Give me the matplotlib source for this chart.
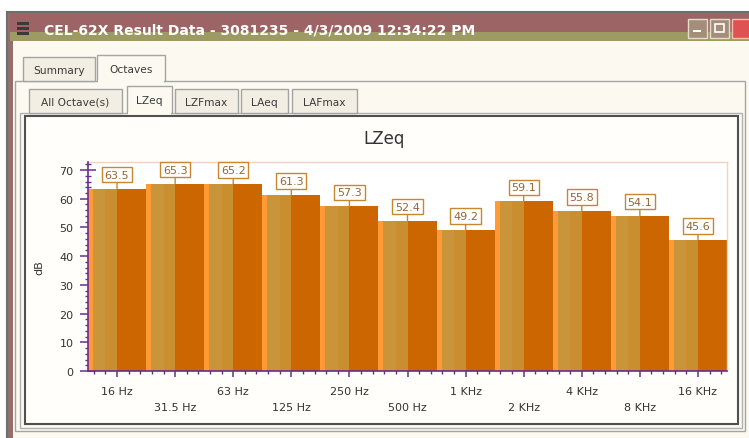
import numpy as np
import matplotlib.pyplot as plt
from matplotlib.patches import Rectangle
from matplotlib.ticker import MultipleLocator

bands = ['16 Hz', '31.5 Hz', '63 Hz', '125 Hz', '250 Hz', '500 Hz',
         '1 KHz', '2 KHz', '4 KHz', '8 KHz', '16 KHz']
lzeq = [63.5, 65.3, 65.2, 61.3, 57.3, 52.4, 49.2, 59.1, 55.8, 54.1, 45.6]
window_title = 'CEL-62X Result Data - 3081235 - 4/3/2009 12:34:22 PM'
main_tabs = ['Summary', 'Octaves']
sub_tabs = ['All Octave(s)', 'LZeq', 'LZFmax', 'LAeq', 'LAFmax']

W, H = 749, 439
BODY = '#fcf9f1'
fig = plt.figure(figsize=(W / 100, H / 100), dpi=100)
fig.patch.set_facecolor('white')

# window chrome, drawn in pixel coordinates
ui = fig.add_axes([0, 0, 1, 1], zorder=0)
ui.set_xlim(0, W)
ui.set_ylim(H, 0)
ui.axis('off')


def box(x0, y0, x1, y1, fc='none', ec='none', lw=1.0):
    ui.add_patch(Rectangle((x0, y0), x1 - x0, y1 - y0, fc=fc, ec=ec, lw=lw))


box(7, 13, 770, 460, fc='#93706c', ec='#6e6e6e', lw=1.5)
box(10, 14, 770, 33, fc='#9c6464')
box(10, 33, 770, 42, fc='#9d9a64')
box(13, 42, 770, 460, fc=BODY)
for yy in (24, 29, 34):
    box(17, yy - 1.5, 29, yy + 1.5, fc='#3a3a3a')
ui.text(44, 30, window_title, color='white', fontsize=10, fontweight='bold',
        va='center', ha='left')
box(688, 20, 707, 39, fc='#a38e7a', ec='#e6dccb')
box(710, 20, 729, 39, fc='#a38e7a', ec='#e6dccb')
box(732, 20, 760, 39, fc='#e05252', ec='#f0c0b0')
box(693, 31, 701, 33, fc='white')
box(715, 25, 724, 33, ec='white', lw=1.2)

# outer tab panel
box(15, 82, 745, 432, fc=BODY, ec='#a4a4a4')
tab1 = [(23, 95), (97, 165)]
for i, (name, (x0, x1)) in enumerate(zip(main_tabs, tab1)):
    sel = i == 1
    y0 = 56 if sel else 58
    box(x0, y0, x1, 82, fc=BODY if sel else '#f2eee3', ec='#a4a4a4')
    if sel:
        box(x0 + 0.8, 81, x1 - 0.8, 83.5, fc=BODY)
    ui.text((x0 + x1) / 2, (y0 + 82) / 2 + 1, name, fontsize=7.7, color='#3a3a3a',
            ha='center', va='center')

# inner tab panel
box(20, 114, 742, 429, fc=BODY, ec='#b0b0b0')
tab2 = [(29, 122), (127, 172), (175, 238), (241, 288), (292, 357)]
for i, (name, (x0, x1)) in enumerate(zip(sub_tabs, tab2)):
    sel = i == 1
    y0 = 87 if sel else 90
    box(x0, y0, x1, 114, fc=BODY if sel else '#f2eee3', ec='#a4a4a4')
    if sel:
        box(x0 + 0.8, 113, x1 - 0.8, 115.5, fc=BODY)
    ui.text((x0 + x1) / 2, (y0 + 114) / 2 + 1, name, fontsize=7.7, color='#3a3a3a',
            ha='center', va='center')

# chart panel
box(25, 117, 738, 425, fc='#fffefb', ec='#505050', lw=1.5)
ui.text(384, 139, 'LZeq', fontsize=12, color='#333333', ha='center', va='center')

# the chart itself
ax = fig.add_axes([88 / W, (H - 372) / H, (727 - 88) / W, (372 - 163) / H], zorder=2)
ax.set_facecolor('white')
x = np.arange(len(lzeq))
vals = np.array(lzeq)

ax.bar(x - 0.5, vals, width=1.0, align='edge', color='#ff9a35', lw=0, zorder=2)
ax.bar(x - 0.414, vals, width=0.414, align='edge', color='#c9943a', lw=0, zorder=2)
ax.bar(x - 0.2, vals, width=0.2, align='edge', color='#c98e30', lw=0, zorder=2)
ax.bar(x, vals, width=0.5, align='edge', color='#cc6600', lw=0, zorder=2)

for xi, v in zip(x, vals):
    ax.annotate('%.1f' % v, xy=(xi, v), xytext=(0, 6.5), textcoords='offset points',
                ha='center', va='bottom', fontsize=8, color='#9a6432',
                bbox=dict(boxstyle='square,pad=0.25', fc='white', ec='#c8862e', lw=1),
                arrowprops=dict(arrowstyle='-', color='#c8862e', lw=1,
                                shrinkA=0, shrinkB=0),
                zorder=4, annotation_clip=False)

ax.set_xlim(-0.5, len(lzeq) - 0.5)
ax.set_ylim(0, 72.8)
ax.set_yticks(np.arange(0, 71, 10))
ax.yaxis.set_minor_locator(MultipleLocator(2))
ax.set_xticks(x)
ax.xaxis.set_minor_locator(MultipleLocator(0.2))
ax.set_xticklabels([b if i % 2 == 0 else '\n' + b for i, b in enumerate(bands)])
for lab in ax.get_xticklabels():
    lab.set_linespacing(1.75)

purple = '#6a2c91'
ax.tick_params(which='major', direction='inout', length=9, width=1.1, color=purple,
               labelsize=8, labelcolor='#333333')
ax.tick_params(axis='y', which='major', length=12, pad=4.5)
ax.tick_params(axis='x', which='major', pad=6.5)
ax.tick_params(which='minor', direction='inout', length=4.5, width=1, color=purple)
for s in ('left', 'bottom'):
    ax.spines[s].set_color(purple)
    ax.spines[s].set_linewidth(1.2)
    ax.spines[s].set_zorder(3)
for s in ('top', 'right'):
    ax.spines[s].set_color('#f2d2c2')
    ax.spines[s].set_linewidth(1)

ax.set_ylabel('dB', fontsize=8, color='#333333')
ax.yaxis.set_label_coords(-0.069, 0.5)

plt.savefig('out.png', dpi=100)
